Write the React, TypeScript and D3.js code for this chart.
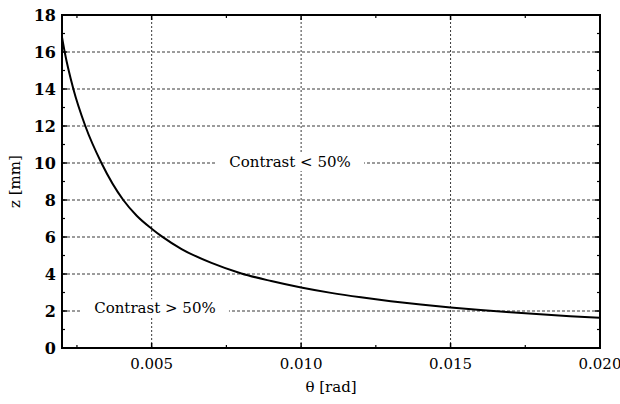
import React from 'react'
import * as d3 from 'd3'

// values
const theta = [0.002, 0.00209, 0.00238, 0.00278, 0.00332, 0.00405, 0.0045, 0.005, 0.00535, 0.006, 0.007, 0.008,
  0.009, 0.010, 0.011, 0.012, 0.013, 0.014, 0.015, 0.016, 0.017, 0.018, 0.019, 0.020]
const zmm = [16.8, 16.0, 14.0, 12.0, 10.0, 8.0, 7.15, 6.45, 6.02, 5.35, 4.6, 4.03,
  3.62, 3.27, 2.98, 2.74, 2.53, 2.35, 2.19, 2.05, 1.93, 1.82, 1.72, 1.63]

const xTicks = [0.005, 0.010, 0.015, 0.020]
const xMinor = [0.0025, 0.0075, 0.0125, 0.0175]
const yTicks = [0, 2, 4, 6, 8, 10, 12, 14, 16, 18]
const yMinor = [1, 3, 5, 7, 9, 11, 13, 15, 17]

const labels = ['Contrast < 50%', 'Contrast > 50%']
const labelX = [0.00963, 0.00511]
const labelY = [10.05, 2.15]

const W = 620
const H = 404
const margin = { top: 15, right: 20, bottom: 56, left: 62 }

const App = () => {
  let x = d3.scaleLinear().domain([0.002, 0.020]).range([margin.left, W - margin.right])
  let y = d3.scaleLinear().domain([0, 18]).range([H - margin.bottom, margin.top])
  let x0 = x.range()[0], x1 = x.range()[1]
  let y0 = y.range()[0], y1 = y.range()[1]

  let line = d3.line<number>()
    .x((d, i) => x(theta[i]))
    .y(d => y(d))
    .curve(d3.curveMonotoneX)

  const font = 'DejaVu Serif'
  const tl = 5

  return (
    <svg width={W} height={H} style={{ position: 'absolute', left: 0, top: 0, background: '#fff' }}>
      {/* grid */}
      {yTicks.filter(t => t > 0 && t < 18).map(t =>
        <line key={'gy' + t} x1={x0} x2={x1} y1={y(t)} y2={y(t)} stroke="#222" strokeWidth={0.9} strokeDasharray="3,2" />)}
      {xTicks.filter(t => t < 0.020).map(t =>
        <line key={'gx' + t} x1={x(t)} x2={x(t)} y1={y0} y2={y1} stroke="#222" strokeWidth={0.9} strokeDasharray="2,2" />)}

      {/* annotations with white boxes over grid */}
      {labels.map((l, i) => {
        let w = 148
        return <g key={l}>
          <rect x={x(labelX[i]) - w / 2} y={y(labelY[i]) - 9} width={w} height={18} fill="#fff" />
          <text x={x(labelX[i])} y={y(labelY[i])} dy="0.35em" textAnchor="middle"
            style={{ fontFamily: font }} fontSize={15}>{l}</text>
        </g>
      })}

      {/* curve */}
      <path d={line(zmm) || ''} fill="none" stroke="#000" strokeWidth={2} />

      {/* ticks */}
      {yTicks.map(t => <g key={'ty' + t}>
        <line x1={x0} x2={x0 + tl} y1={y(t)} y2={y(t)} stroke="#000" strokeWidth={1.5} />
        <line x1={x1} x2={x1 - tl} y1={y(t)} y2={y(t)} stroke="#000" strokeWidth={1.5} />
      </g>)}
      {yMinor.map(t => <g key={'my' + t}>
        <line x1={x0} x2={x0 + 3} y1={y(t)} y2={y(t)} stroke="#000" strokeWidth={1.2} />
        <line x1={x1} x2={x1 - 3} y1={y(t)} y2={y(t)} stroke="#000" strokeWidth={1.2} />
      </g>)}
      {xTicks.map(t => <g key={'tx' + t}>
        <line x1={x(t)} x2={x(t)} y1={y0} y2={y0 - tl} stroke="#000" strokeWidth={1.5} />
        <line x1={x(t)} x2={x(t)} y1={y1} y2={y1 + tl} stroke="#000" strokeWidth={1.5} />
      </g>)}
      {xMinor.map(t => <g key={'mx' + t}>
        <line x1={x(t)} x2={x(t)} y1={y0} y2={y0 - 3} stroke="#000" strokeWidth={1.2} />
        <line x1={x(t)} x2={x(t)} y1={y1} y2={y1 + 3} stroke="#000" strokeWidth={1.2} />
      </g>)}

      {/* frame */}
      <rect x={x0} y={y1} width={x1 - x0} height={y0 - y1} fill="none" stroke="#000" strokeWidth={2} />

      {/* tick labels */}
      {yTicks.map(t =>
        <text key={'ly' + t} x={x0 - 6} y={y(t)} dy="0.35em" textAnchor="end"
          style={{ fontFamily: font }} fontSize={16} fontWeight="bold">{t}</text>)}
      {xTicks.map(t =>
        <text key={'lx' + t} x={x(t)} y={y0 + 21} textAnchor="middle"
          style={{ fontFamily: font }} fontSize={15}>{d3.format('.3f')(t)}</text>)}

      {/* axis titles */}
      <text x={(x0 + x1) / 2} y={y0 + 44} textAnchor="middle" style={{ fontFamily: font }} fontSize={15}>θ [rad]</text>
      <text transform={`translate(20,${(y0 + y1) / 2}) rotate(-90)`} textAnchor="middle"
        style={{ fontFamily: font }} fontSize={15}>z [mm]</text>
    </svg>
  )
}

export default App
